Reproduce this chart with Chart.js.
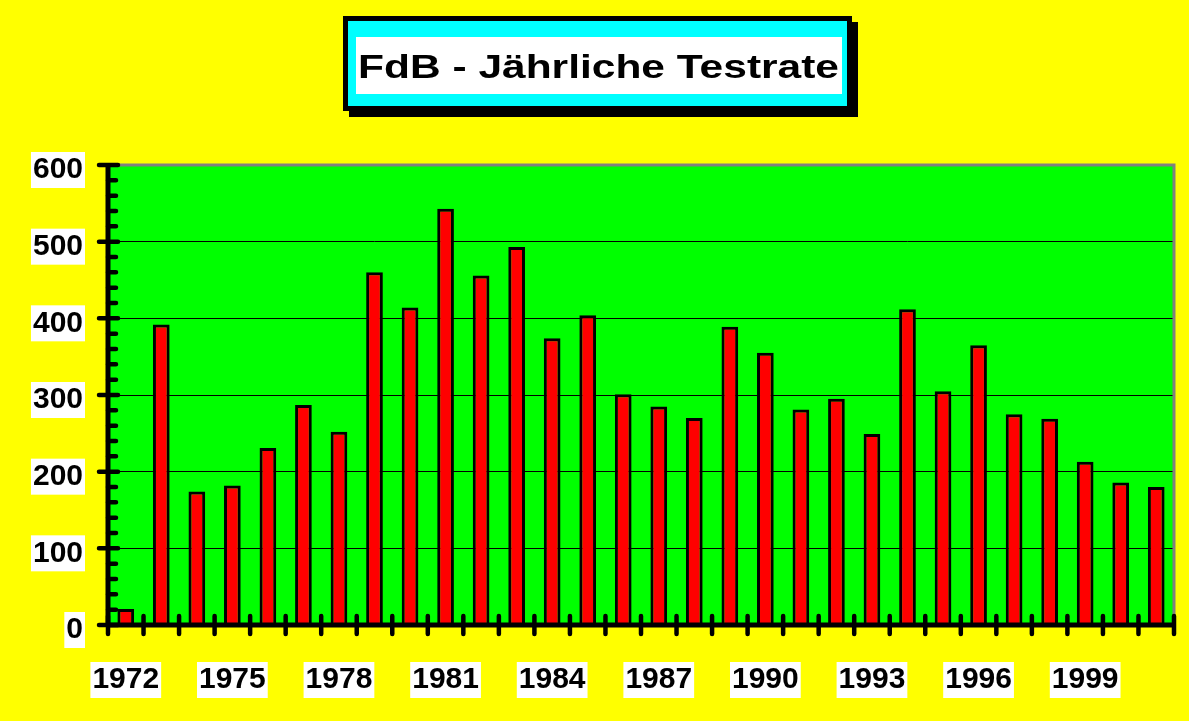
<!DOCTYPE html>
<html lang="de">
<head>
    <meta charset="UTF-8">
    <title>FdB - Jährliche Testrate</title>
    <script src="https://cdn.jsdelivr.net/npm/chart.js@4"></script>
    <style>
        html, body { margin: 0; padding: 0; background: #ffff00; }
        canvas { display: block; }
    </style>
</head>
<body>
    <canvas id="chart" width="1189" height="721"></canvas>

    <script>
        // Daten
        const titleText = 'FdB - Jährliche Testrate';
        const years = ['1972', '1973', '1974', '1975', '1976', '1977', '1978', '1979', '1980', '1981',
                       '1982', '1983', '1984', '1985', '1986', '1987', '1988', '1989', '1990', '1991',
                       '1992', '1993', '1994', '1995', '1996', '1997', '1998', '1999', '2000', '2001'];
        const tests = [21, 392, 174, 182, 231, 287, 252, 460, 414, 543,
                       456, 493, 374, 404, 301, 285, 270, 389, 355, 281,
                       295, 249, 412, 305, 365, 275, 269, 213, 186, 180];
        const yMin = 0;
        const yMax = 600;
        const yStep = 100;
        const yMinorStep = 20;
        const labelEvery = 3;

        const fontFamily = '"Liberation Sans", Arial, sans-serif';

        // Hintergrund, Titelkasten, Achsen und Striche
        const frame = {
            id: 'frame',
            beforeDraw(chart) {
                const { ctx, chartArea: a } = chart;
                ctx.save();
                ctx.fillStyle = '#ffff00';
                ctx.fillRect(0, 0, chart.width, chart.height);
                ctx.fillStyle = '#00ff00';
                ctx.fillRect(a.left, a.top, a.right - a.left, a.bottom - a.top);

                // Titel mit Schatten
                ctx.fillStyle = '#000';
                ctx.fillRect(349, 22, 509, 95);
                ctx.fillRect(343, 16, 509, 95);
                ctx.fillStyle = '#00ffff';
                ctx.fillRect(348, 21, 499, 85);
                ctx.fillStyle = '#fff';
                ctx.fillRect(356, 37, 486, 57);

                ctx.font = 'bold 33px ' + fontFamily;
                ctx.fillStyle = '#000';
                ctx.textAlign = 'center';
                ctx.textBaseline = 'alphabetic';
                const w = ctx.measureText(titleText).width;
                ctx.translate(598.5, 78);
                ctx.scale(481 / w, 1);  // Schrift ist im Original breit gezogen
                ctx.fillText(titleText, 0, 0);
                ctx.restore();
            },
            afterDatasetsDraw(chart) {
                const { ctx, chartArea: a, scales: { x, y } } = chart;
                ctx.save();

                // grauer Rahmen oben und rechts
                ctx.strokeStyle = '#808080';
                ctx.lineWidth = 3;
                ctx.beginPath();
                ctx.moveTo(a.left, a.top);
                ctx.lineTo(a.right, a.top);
                ctx.lineTo(a.right, a.bottom);
                ctx.stroke();

                // Achsen
                ctx.strokeStyle = '#000';
                ctx.lineWidth = 5;
                ctx.beginPath();
                ctx.moveTo(a.left, a.top);
                ctx.lineTo(a.left, a.bottom);
                ctx.moveTo(a.left, a.bottom);
                ctx.lineTo(a.right, a.bottom);
                ctx.stroke();

                // Striche an der y-Achse
                ctx.lineCap = 'round';
                ctx.lineWidth = 4.5;
                ctx.beginPath();
                for (let v = yMin; v <= yMax; v += yMinorStep) {
                    const py = y.getPixelForValue(v);
                    if (v % yStep === 0) {
                        ctx.moveTo(a.left - 9, py);
                        ctx.lineTo(a.left + 10, py);
                    } else {
                        ctx.moveTo(a.left, py);
                        ctx.lineTo(a.left + 8, py);
                    }
                }
                // Striche an der x-Achse, zwischen den Kategorien
                const half = (x.getPixelForValue(1) - x.getPixelForValue(0)) / 2;
                for (let i = 0; i <= years.length; i++) {
                    const px = x.getPixelForValue(i) - half;
                    ctx.moveTo(px, a.bottom - 9);
                    ctx.lineTo(px, a.bottom + 9);
                }
                ctx.stroke();
                ctx.restore();
            }
        };

        const ctx = document.getElementById('chart').getContext('2d');

        new Chart(ctx, {
            type: 'bar',
            data: {
                labels: years,
                datasets: [{
                    label: 'Tests',
                    data: tests,
                    backgroundColor: '#ff0000',
                    borderColor: '#000',
                    borderWidth: 3,
                    barPercentage: 0.47,
                    categoryPercentage: 1
                }]
            },
            options: {
                responsive: false,
                animation: false,
                layout: { padding: { top: 165, right: 15, left: 0, bottom: 0 } },
                plugins: {
                    legend: { display: false },
                    title: { display: false },
                    tooltip: { enabled: false }
                },
                scales: {
                    x: {
                        offset: true,
                        grid: { display: false },
                        border: { display: false },
                        ticks: {
                            autoSkip: false,
                            minRotation: 0,
                            maxRotation: 0,
                            padding: 29,
                            color: '#000',
                            font: { family: fontFamily, size: 30, weight: 'bold' },
                            callback: (value, index) => index % labelEvery === 0 ? years[index] : '',
                            showLabelBackdrop: true,
                            backdropColor: c => c.index % labelEvery === 0 ? '#fff' : 'rgba(0,0,0,0)',
                            backdropPadding: { top: 0, bottom: 0, left: 2, right: 2 }
                        },
                        afterFit(scale) {
                            scale.height = 96;
                            scale.paddingLeft = 0;
                            scale.paddingRight = 0;
                        }
                    },
                    y: {
                        min: yMin,
                        max: yMax,
                        grid: { color: '#000', lineWidth: 1, drawTicks: false },
                        border: { display: false },
                        ticks: {
                            stepSize: yStep,
                            padding: 25,
                            labelOffset: 5,
                            color: '#000',
                            font: { family: fontFamily, size: 30, weight: 'bold' },
                            showLabelBackdrop: true,
                            backdropColor: '#fff',
                            backdropPadding: { top: 0, bottom: 0, left: 2, right: 2 }
                        },
                        afterFit(scale) {
                            scale.width = 108;
                            scale.paddingTop = 0;
                            scale.paddingBottom = 0;
                        }
                    }
                }
            },
            plugins: [frame]
        });
    </script>
</body>
</html>
